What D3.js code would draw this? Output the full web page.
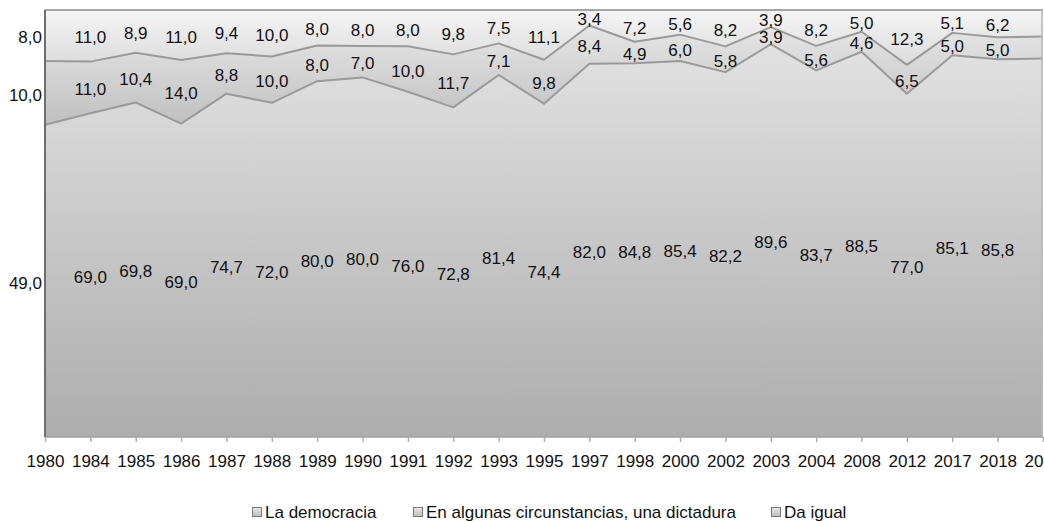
<!DOCTYPE html>
<html><head><meta charset="utf-8">
<script src="https://cdn.jsdelivr.net/npm/d3@7"></script>
<style>
html,body{margin:0;padding:0;background:#fff;overflow:hidden}
svg{display:block;font-family:"Liberation Sans",Arial,Helvetica,sans-serif}
</style></head>
<body><svg id="c" width="1044" height="522"></svg>
<script>
const categories = ["1980","1984","1985","1986","1987","1988","1989","1990","1991","1992","1993","1995","1997","1998","2000","2002","2003","2004","2008","2012","2017","2018","2020"];
const democracia = [49.0,69.0,69.8,69.0,74.7,72.0,80.0,80.0,76.0,72.8,81.4,74.4,82.0,84.8,85.4,82.2,89.6,83.7,88.5,77.0,85.1,85.8,86.0];
const dictadura  = [10.0,11.0,10.4,14.0,8.8,10.0,8.0,7.0,10.0,11.7,7.1,9.8,8.4,4.9,6.0,5.8,3.9,5.6,4.6,6.5,5.0,5.0,5.0];
const daIgual    = [8.0,11.0,8.9,11.0,9.4,10.0,8.0,8.0,8.0,9.8,7.5,11.1,3.4,7.2,5.6,8.2,3.9,8.2,5.0,12.3,5.1,6.2,6.0];
const seriesNames = ["La democracia","En algunas circunstancias, una dictadura","Da igual"];
const labelledCount = 22; // last column has no data labels in the original

const svg = d3.select("#c");
const pLeft = 45, pRight = 1043, pTop = 10, pBottom = 437;
const FONT = "17px";
const x = d3.scalePoint().domain(categories).range([pLeft, pRight]);
const y = d3.scaleLinear().domain([0, 1]).range([pBottom, pTop]);

const rows = categories.map((c, i) => ({cat: c, a: democracia[i], b: dictadura[i], c2: daIgual[i]}));
const keys = ["a", "b", "c2"];
const stacked = d3.stack().keys(keys).offset(d3.stackOffsetExpand)(rows);

const defs = svg.append("defs");
const grads = [
  {id: "g0", stops: ["#e6e6e6", "#adadad"], units: "userSpaceOnUse", y1: pTop, y2: pBottom},
  {id: "g1", stops: ["#e6e6e6", "#c0c0c0"]},
  {id: "g2", stops: ["#f5f5f5", "#dcdcdc"]}
];
grads.forEach(g => {
  const lg = defs.append("linearGradient").attr("id", g.id).attr("x1", 0).attr("x2", 0);
  if (g.units) lg.attr("gradientUnits", g.units).attr("y1", g.y1).attr("y2", g.y2);
  else lg.attr("y1", 0).attr("y2", 1);
  lg.append("stop").attr("offset", "0%").attr("stop-color", g.stops[0]);
  lg.append("stop").attr("offset", "100%").attr("stop-color", g.stops[1]);
});
const lgLegend = defs.append("linearGradient").attr("id", "lg").attr("x1",0).attr("x2",0).attr("y1",0).attr("y2",1);
lgLegend.append("stop").attr("offset","0%").attr("stop-color","#e8e8e8");
lgLegend.append("stop").attr("offset","100%").attr("stop-color","#bdbdbd");

const area = d3.area().x((d, i) => x(categories[i])).y0(d => y(d[0])).y1(d => y(d[1]));
const line = d3.line().x((d, i) => x(categories[i])).y(d => y(d[1]));

svg.append("g").selectAll("path").data(stacked).join("path")
  .attr("d", area).attr("fill", (d, i) => `url(#g${i})`);

svg.append("g").selectAll("path").data(stacked.slice(0, 2)).join("path")
  .attr("d", line).attr("fill", "none").attr("stroke", "#9a9a9a").attr("stroke-width", 2)
  .attr("stroke-linejoin", "round");

svg.append("line").attr("x1", pLeft).attr("x2", pRight).attr("y1", pTop).attr("y2", pTop)
  .attr("stroke", "#a6a6a6").attr("stroke-width", 2);
svg.append("line").attr("x1", pRight - 1).attr("x2", pRight - 1).attr("y1", pTop).attr("y2", pBottom)
  .attr("stroke", "#b8b8b8").attr("stroke-width", 1.5);
svg.append("line").attr("x1", pLeft).attr("x2", pRight).attr("y1", pBottom).attr("y2", pBottom)
  .attr("stroke", "#a0a0a0").attr("stroke-width", 1.5);

const xAxis = d3.axisBottom(x).tickSize(5).tickPadding(13);
const gx = svg.append("g").attr("transform", `translate(0,${pBottom})`).call(xAxis);
gx.select(".domain").remove();
gx.selectAll(".tick line").attr("stroke", "#b0b0b0").attr("stroke-width", 1.5);
gx.selectAll(".tick text").attr("fill", "#111").style("font-size", FONT)
  .style("font-family", '"Liberation Sans",Arial,Helvetica,sans-serif');

svg.append("line").attr("x1", pLeft).attr("x2", pLeft).attr("y1", pTop).attr("y2", pBottom)
  .attr("stroke", "#6e6e6e").attr("stroke-width", 2);

const fmt = v => d3.format(".1f")(v).replace(".", ",");
const srcVals = [democracia, dictadura, daIgual];
const lab = svg.append("g").style("font-size", FONT).attr("fill", "#111");
stacked.forEach((s, si) => {
  s.forEach((d, i) => {
    if (i >= labelledCount) return;
    const cx = x(categories[i]);
    const cy = (y(d[0]) + y(d[1])) / 2;
    lab.append("text")
      .attr("x", i === 0 ? cx - 3 : cx)
      .attr("y", cy)
      .attr("dy", "0.45em")
      .attr("text-anchor", i === 0 ? "end" : "middle")
      .text(fmt(srcVals[si][i]));
  });
});

const legendX = [252, 413, 771];
const lgG = svg.append("g").style("font-size", FONT);
seriesNames.forEach((n, i) => {
  lgG.append("rect").attr("x", legendX[i] + 0.5).attr("y", 507.5).attr("width", 9).attr("height", 9)
    .attr("fill", "url(#lg)").attr("stroke", "#7a7a7a").attr("stroke-width", 1);
  lgG.append("text").attr("x", legendX[i] + 13).attr("y", 512).attr("dy", "0.36em")
    .attr("fill", "#111").text(n);
});
</script></body></html>
